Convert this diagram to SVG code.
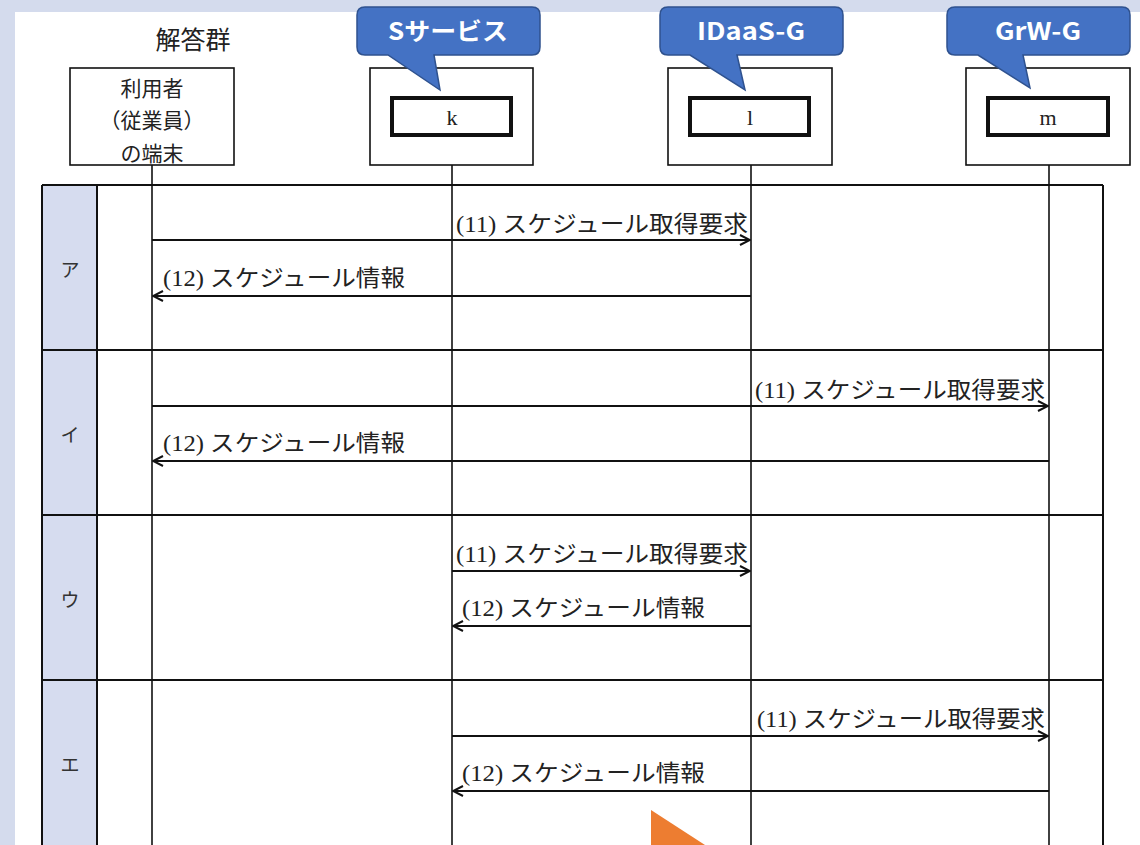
<svg xmlns="http://www.w3.org/2000/svg" width="1140" height="845" viewBox="0 0 1140 845">
<defs>
<style>
.ln{stroke:#111;stroke-width:1.6;fill:none}
.tb{stroke:#111;stroke-width:2;fill:none}
.box{fill:#fff;stroke:#111;stroke-width:1.6}
.inner{fill:#fff;stroke:#111;stroke-width:4}
.msg{stroke:#111;stroke-width:2;fill:none}
.jp{font-family:"Liberation Serif","Noto Sans CJK JP",serif;font-size:23px;fill:#222}
.hd{font-family:"Noto Sans CJK JP",sans-serif;font-size:21px;fill:#222;text-anchor:middle}
.var{font-family:"Liberation Serif",serif;font-size:22px;fill:#222;text-anchor:middle}
.co{fill:#4472c4;stroke:#2f528f;stroke-width:1.5}
.cot{font-family:"Noto Sans CJK JP","Liberation Sans",sans-serif;font-size:24px;font-weight:bold;fill:#fff;text-anchor:middle}
.lab{font-family:"Noto Sans CJK JP",serif;font-size:19px;fill:#333;text-anchor:middle}
</style>
<marker id="ah" viewBox="0 0 12 12" refX="11" refY="6" markerWidth="12" markerHeight="12" markerUnits="userSpaceOnUse" orient="auto-start-reverse">
<path d="M1,1 L11,6 L1,11" fill="none" stroke="#111" stroke-width="2"/>
</marker>
</defs>
<rect x="0" y="0" width="1140" height="845" fill="#d4dbed"/>
<rect x="15" y="12" width="1125" height="833" fill="#fff"/>

<text x="193" y="49" class="hd" style="font-size:25px">解答群</text>

<g id="table">
<rect x="43" y="186" width="54" height="659" fill="#d6dcef"/>
<line class="tb" x1="42" y1="185" x2="1103" y2="185"/>
<line class="tb" x1="42" y1="350" x2="1103" y2="350"/>
<line class="tb" x1="42" y1="515" x2="1103" y2="515"/>
<line class="tb" x1="42" y1="680" x2="1103" y2="680"/>
<line class="tb" x1="42" y1="185" x2="42" y2="845"/>
<line class="tb" x1="97" y1="185" x2="97" y2="845"/>
<line class="tb" x1="1103" y1="185" x2="1103" y2="845"/>
<text x="70" y="277" class="lab">ア</text>
<text x="70" y="442" class="lab">イ</text>
<text x="70" y="607" class="lab">ウ</text>
<text x="70" y="772" class="lab">エ</text>
</g>

<g id="lifelines">
<line class="ln" x1="152" y1="165" x2="152" y2="845"/>
<line class="ln" x1="452" y1="165" x2="452" y2="845"/>
<line class="ln" x1="751" y1="165" x2="751" y2="845"/>
<line class="ln" x1="1049" y1="165" x2="1049" y2="845"/>
</g>

<g id="node-user">
<rect class="box" x="70" y="68" width="164" height="97"/>
<text x="152" y="96" class="hd">利用者</text>
<text x="152" y="128" class="hd">（従業員）</text>
<text x="152" y="161" class="hd">の端末</text>
</g>
<g id="node-k">
<rect class="box" x="370" y="68" width="163" height="97"/>
<rect class="inner" x="392" y="98" width="119" height="37"/>
<text x="452" y="125" class="var">k</text>
</g>
<g id="node-l">
<rect class="box" x="668" y="68" width="164" height="97"/>
<rect class="inner" x="690" y="98" width="119" height="37"/>
<text x="750" y="125" class="var">l</text>
</g>
<g id="node-m">
<rect class="box" x="966" y="68" width="164" height="97"/>
<rect class="inner" x="988" y="98" width="120" height="37"/>
<text x="1048" y="125" class="var">m</text>
</g>

<g id="callout-s">
<path class="co" d="M365,7 H532 Q540,7 540,15 V47 Q540,55 532,55 H434 L440,90 L388,55 H365 Q357,55 357,47 V15 Q357,7 365,7 Z"/>
<text x="448" y="40" class="cot" textLength="120" lengthAdjust="spacingAndGlyphs">Sサービス</text>
</g>
<g id="callout-idaas">
<path class="co" d="M668,7 H835 Q843,7 843,15 V47 Q843,55 835,55 H737 L745,90 L690,55 H668 Q660,55 660,47 V15 Q660,7 668,7 Z"/>
<text x="751" y="40" class="cot" textLength="108" lengthAdjust="spacingAndGlyphs">IDaaS-G</text>
</g>
<g id="callout-grw">
<path class="co" d="M955,7 H1122 Q1130,7 1130,15 V47 Q1130,55 1122,55 H1023 L1030,88 L978,55 H955 Q947,55 947,47 V15 Q947,7 955,7 Z"/>
<text x="1038" y="40" class="cot" textLength="86" lengthAdjust="spacingAndGlyphs">GrW-G</text>
</g>

<g id="connectors">
<line class="msg" x1="152" y1="240" x2="750" y2="240" marker-end="url(#ah)"/>
<line class="msg" x1="751" y1="296" x2="153" y2="296" marker-end="url(#ah)"/>
<line class="msg" x1="152" y1="406" x2="1048" y2="406" marker-end="url(#ah)"/>
<line class="msg" x1="1049" y1="461" x2="153" y2="461" marker-end="url(#ah)"/>
<line class="msg" x1="452" y1="571" x2="750" y2="571" marker-end="url(#ah)"/>
<line class="msg" x1="751" y1="626" x2="453" y2="626" marker-end="url(#ah)"/>
<line class="msg" x1="452" y1="736" x2="1048" y2="736" marker-end="url(#ah)"/>
<line class="msg" x1="1049" y1="791" x2="453" y2="791" marker-end="url(#ah)"/>
<text x="456" y="232" class="jp" textLength="292" lengthAdjust="spacingAndGlyphs">(11) スケジュール取得要求</text>
<text x="163" y="286" class="jp" textLength="242" lengthAdjust="spacingAndGlyphs">(12) スケジュール情報</text>
<text x="755" y="398" class="jp" textLength="290" lengthAdjust="spacingAndGlyphs">(11) スケジュール取得要求</text>
<text x="163" y="451" class="jp" textLength="242" lengthAdjust="spacingAndGlyphs">(12) スケジュール情報</text>
<text x="456" y="562" class="jp" textLength="292" lengthAdjust="spacingAndGlyphs">(11) スケジュール取得要求</text>
<text x="462" y="616" class="jp" textLength="243" lengthAdjust="spacingAndGlyphs">(12) スケジュール情報</text>
<text x="757" y="727" class="jp" textLength="288" lengthAdjust="spacingAndGlyphs">(11) スケジュール取得要求</text>
<text x="462" y="781" class="jp" textLength="243" lengthAdjust="spacingAndGlyphs">(12) スケジュール情報</text>
</g>

<path d="M651,810 L705,845 L651,845 Z" fill="#ed7d31"/>
</svg>
